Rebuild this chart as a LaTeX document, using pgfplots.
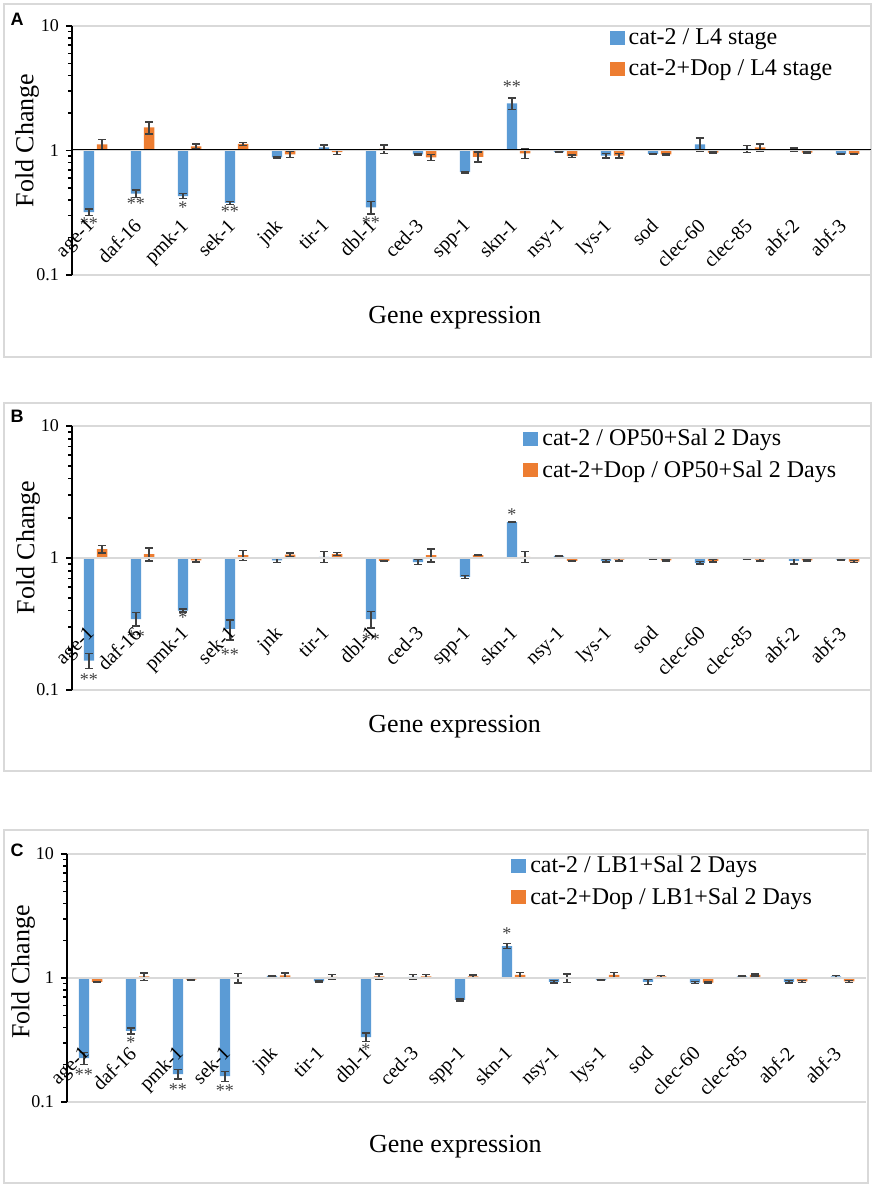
\documentclass[border=0pt]{standalone}
\usepackage{fontspec}
\setmainfont{Liberation Serif}
\newfontfamily\arial{Liberation Sans}
\usepackage{pgfplots}
\usepackage{pgfplotstable}
\pgfplotsset{compat=1.18}

\definecolor{xlblue}{HTML}{5B9BD5}
\definecolor{xlorange}{HTML}{ED7D31}
\definecolor{framegray}{HTML}{D9D9D9}
\definecolor{errgray}{HTML}{404040}

% i = gene index, b/be = cat-2, o/oe = cat-2+Dop (fold change, error)
\pgfplotstableread{
i b be o oe
0 0.32 0.02 1.12 0.10
1 0.45 0.03 1.53 0.17
2 0.43 0.02 1.08 0.05
3 0.38 0.01 1.13 0.03
4 0.88 0.01 0.93 0.05
5 1.06 0.05 0.97 0.04
6 0.35 0.04 1.03 0.08
7 0.93 0.01 0.88 0.05
8 0.67 0.01 0.89 0.08
9 2.39 0.25 0.95 0.09
10 0.97 0.01 0.90 0.02
11 0.91 0.04 0.91 0.04
12 0.94 0.01 0.93 0.01
13 1.12 0.14 0.96 0.01
14 1.03 0.07 1.06 0.07
15 1.02 0.03 0.96 0.01
16 0.94 0.01 0.94 0.01
}\dataA

\pgfplotstableread{
i b be o oe
0 0.167 0.022 1.17 0.08
1 0.345 0.04 1.07 0.12
2 0.40 0.01 0.96 0.03
3 0.29 0.05 1.05 0.09
4 0.96 0.04 1.06 0.03
5 1.02 0.10 1.07 0.03
6 0.345 0.05 0.95 0.01
7 0.93 0.04 1.05 0.12
8 0.72 0.02 1.05 0.01
9 1.87 0.02 1.02 0.10
10 1.04 0.01 0.95 0.01
11 0.95 0.02 0.97 0.02
12 0.98 0.01 0.96 0.01
13 0.92 0.02 0.95 0.02
14 0.98 0.01 0.97 0.02
15 0.95 0.05 0.96 0.01
16 0.97 0.01 0.94 0.02
}\dataB

\pgfplotstableread{
i b be o oe
0 0.226 0.025 0.93 0.01
1 0.374 0.02 1.03 0.07
2 0.168 0.015 0.97 0.01
3 0.162 0.015 1.00 0.09
4 1.04 0.01 1.05 0.05
5 0.94 0.01 1.02 0.05
6 0.334 0.025 1.03 0.05
7 1.02 0.05 1.03 0.04
8 0.665 0.01 1.03 0.03
9 1.81 0.08 1.06 0.05
10 0.93 0.02 1.00 0.08
11 0.96 0.01 1.06 0.05
12 0.93 0.04 1.03 0.02
13 0.92 0.02 0.92 0.01
14 1.03 0.01 1.06 0.02
15 0.93 0.02 0.94 0.02
16 1.03 0.02 0.94 0.02
}\dataC

\tikzset{sig/.style={font=\fontsize{9}{10}\selectfont, text=errgray, inner sep=0pt}}

\pgfplotsset{every axis/.append style={
    scale only axis, width=399.5pt, axis on top,
    ymode=log, log origin=0,
    ymin=0.1, ymax=10, xmin=-0.5, xmax=16.5,
    axis x line*=bottom, axis y line*=left,
    x axis line style={draw=none},
    y axis line style={black, line width=1pt},
    ytick={0.1,1,10}, yticklabels={0.1,1,10},
    minor ytick={0.2,0.3,0.4,0.5,0.6,0.7,0.8,0.9,2,3,4,5,6,7,8,9},
    tick align=outside,
    major tick length=3pt, minor tick length=2pt,
    ytick style={black, line width=0.8pt},
    yticklabel style={font=\fontsize{9}{10}\selectfont},
    xtick={0,...,16},
    xticklabels={age-1,daf-16,pmk-1,sek-1,jnk,tir-1,dbl-1,ced-3,spp-1,skn-1,nsy-1,lys-1,sod,clec-60,clec-85,abf-2,abf-3},
    xtick style={draw=none},
    xticklabel style={xshift=-5pt, rotate=45, anchor=north east, font=\fontsize{10}{12}\selectfont},
    ymajorgrids, major grid style={framegray, line width=0.8pt},
    ybar, bar width=0.22,
    ylabel={Fold Change},
    xlabel={Gene expression},
    label style={font=\fontsize{13}{15}\selectfont},
    legend style={draw=none, fill=none, font=\fontsize{12}{13.5}\selectfont,
      cells={anchor=west}, row sep=1.8pt},
  }}

\begin{document}
\begin{tikzpicture}
\useasboundingbox (0pt,0pt) rectangle (437.5pt,-593pt);
\draw[framegray, line width=0.8pt] (2pt,-2pt) rectangle (435.5pt,-178.5pt);
\draw[framegray, line width=0.8pt] (2pt,-201.5pt) rectangle (435.5pt,-385.5pt);
\draw[framegray, line width=0.8pt] (2pt,-415pt) rectangle (434pt,-591.5pt);
\node[font=\arial\bfseries\fontsize{9}{10}\selectfont] at (8.5pt,-9.5pt) {A};
\node[font=\arial\bfseries\fontsize{9}{10}\selectfont] at (8.5pt,-208pt) {B};
\node[font=\arial\bfseries\fontsize{9}{10}\selectfont] at (8.5pt,-425pt) {C};

% Panel A
\begin{axis}[at={(36pt,-137.5pt)}, anchor=south west, height=124.5pt,
  xticklabel shift=-36.75pt,
  ylabel style={at={(axis description cs:-0.056,0.54)}, anchor=center},
  xlabel style={at={(axis description cs:0.479,-0.173)}, anchor=center},
  legend style={at={(axis description cs:0.665,1.022)}, anchor=north west}]
\addplot[fill=xlblue, draw=none, bar shift=-0.14,
  legend image code/.code={\fill[xlblue] (0pt,-3.5pt) rectangle (7.5pt,3.5pt);},
  error bars/.cd, y dir=both, y explicit,
  error bar style={errgray, line width=0.7pt},
  error mark options={errgray, line width=0.7pt, mark size=2pt, rotate=90}]
  table[x=i, y=b, y error=be] {\dataA};
\addplot[fill=xlorange, draw=none, bar shift=0.14,
  legend image code/.code={\fill[xlorange] (0pt,-3.5pt) rectangle (7.5pt,3.5pt);},
  error bars/.cd, y dir=both, y explicit,
  error bar style={errgray, line width=0.7pt},
  error mark options={errgray, line width=0.7pt, mark size=2pt, rotate=90}]
  table[x=i, y=o, y error=oe] {\dataA};
\legend{cat-2 / L4 stage, cat-2+Dop / L4 stage}
\draw[black, line width=1pt] (axis cs:-0.5,1) -- (axis cs:16.5,1);
\node[sig] at (axis cs:-0.14,0.259) {**};
\node[sig] at (axis cs:0.86,0.375) {**};
\node[sig] at (axis cs:1.86,0.348) {*};
\node[sig] at (axis cs:2.86,0.324) {**};
\node[sig] at (axis cs:5.86,0.264) {**};
\node[sig] at (axis cs:8.86,3.27) {**};
\end{axis}

% Panel B
\begin{axis}[at={(36pt,-345pt)}, anchor=south west, height=132pt,
  xticklabel shift=-40.5pt,
  ylabel style={at={(axis description cs:-0.055,0.54)}, anchor=center},
  xlabel style={at={(axis description cs:0.479,-0.14)}, anchor=center},
  legend style={at={(axis description cs:0.557,1.02)}, anchor=north west}]
\addplot[fill=xlblue, draw=none, bar shift=-0.14,
  legend image code/.code={\fill[xlblue] (0pt,-3.5pt) rectangle (7.5pt,3.5pt);},
  error bars/.cd, y dir=both, y explicit,
  error bar style={errgray, line width=0.7pt},
  error mark options={errgray, line width=0.7pt, mark size=2pt, rotate=90}]
  table[x=i, y=b, y error=be] {\dataB};
\addplot[fill=xlorange, draw=none, bar shift=0.14,
  legend image code/.code={\fill[xlorange] (0pt,-3.5pt) rectangle (7.5pt,3.5pt);},
  error bars/.cd, y dir=both, y explicit,
  error bar style={errgray, line width=0.7pt},
  error mark options={errgray, line width=0.7pt, mark size=2pt, rotate=90}]
  table[x=i, y=o, y error=oe] {\dataB};
\legend{cat-2 / OP50+Sal 2 Days, cat-2+Dop / OP50+Sal 2 Days}
\draw[black, line width=1pt] (axis cs:-0.5,1) -- (axis cs:16.5,1);
\node[sig] at (axis cs:-0.14,0.119) {**};
\node[sig] at (axis cs:0.86,0.256) {**};
\node[sig] at (axis cs:1.86,0.351) {*};
\node[sig] at (axis cs:2.86,0.187) {**};
\node[sig] at (axis cs:5.86,0.239) {**};
\node[sig] at (axis cs:8.86,2.15) {*};
\end{axis}

% Panel C
\begin{axis}[at={(33.5pt,-551pt)}, anchor=south west, height=124pt,
  xticklabel shift=-36.5pt,
  ylabel style={at={(axis description cs:-0.055,0.524)}, anchor=center},
  xlabel style={at={(axis description cs:0.486,-0.18)}, anchor=center},
  legend style={at={(axis description cs:0.548,1.025)}, anchor=north west}]
\addplot[fill=xlblue, draw=none, bar shift=-0.14,
  legend image code/.code={\fill[xlblue] (0pt,-3.5pt) rectangle (7.5pt,3.5pt);},
  error bars/.cd, y dir=both, y explicit,
  error bar style={errgray, line width=0.7pt},
  error mark options={errgray, line width=0.7pt, mark size=2pt, rotate=90}]
  table[x=i, y=b, y error=be] {\dataC};
\addplot[fill=xlorange, draw=none, bar shift=0.14,
  legend image code/.code={\fill[xlorange] (0pt,-3.5pt) rectangle (7.5pt,3.5pt);},
  error bars/.cd, y dir=both, y explicit,
  error bar style={errgray, line width=0.7pt},
  error mark options={errgray, line width=0.7pt, mark size=2pt, rotate=90}]
  table[x=i, y=o, y error=oe] {\dataC};
\legend{cat-2 / LB1+Sal 2 Days, cat-2+Dop / LB1+Sal 2 Days}
\draw[black, line width=1pt] (axis cs:-0.5,1) -- (axis cs:16.5,1);
\node[sig] at (axis cs:-0.14,0.165) {**};
\node[sig] at (axis cs:0.86,0.299) {*};
\node[sig] at (axis cs:1.86,0.125) {**};
\node[sig] at (axis cs:2.86,0.123) {**};
\node[sig] at (axis cs:5.86,0.263) {*};
\node[sig] at (axis cs:8.86,2.26) {*};
\end{axis}
\end{tikzpicture}
\end{document}
